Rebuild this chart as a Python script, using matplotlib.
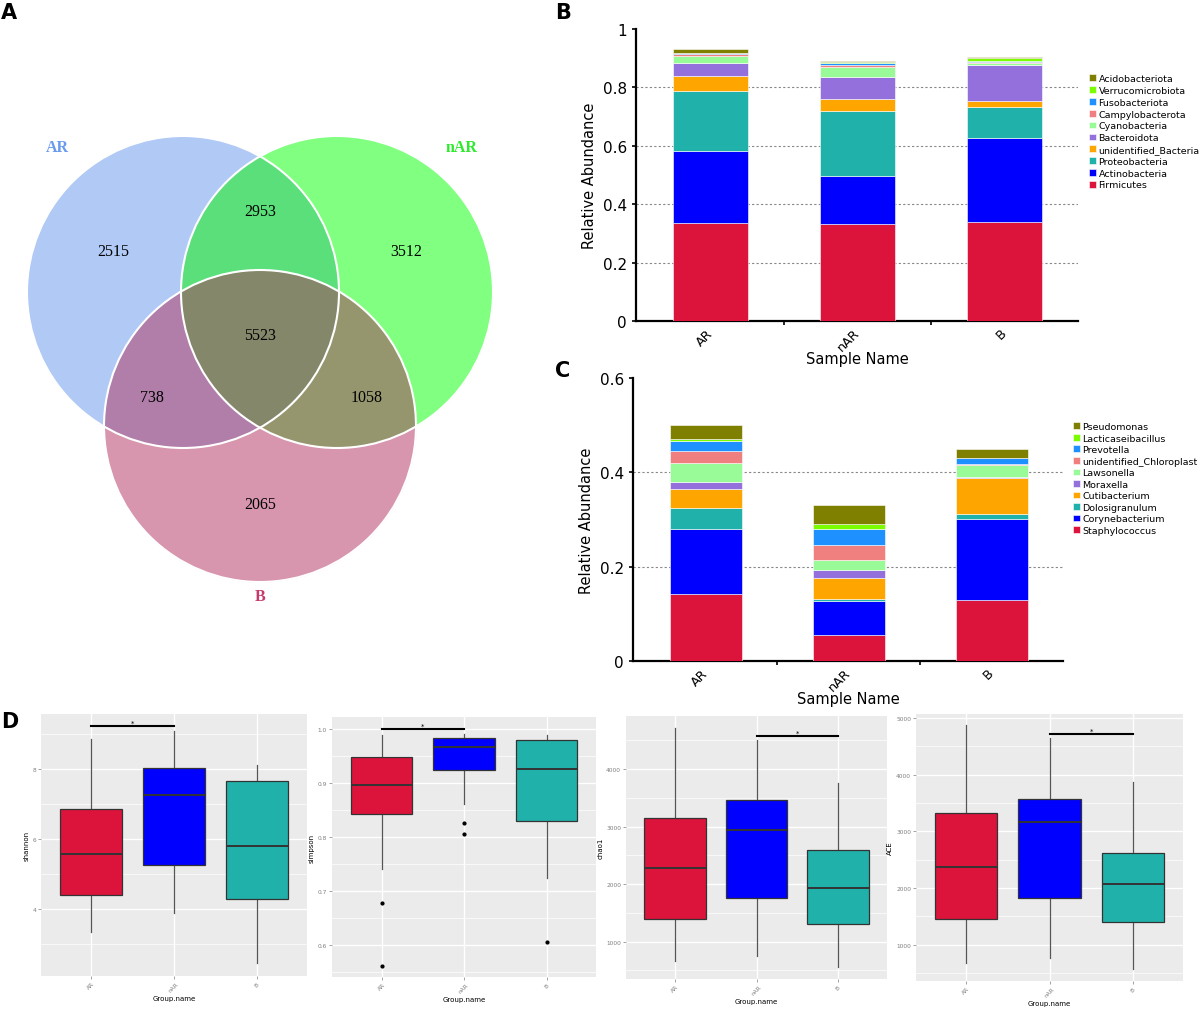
import numpy as np
import matplotlib.pyplot as plt
from matplotlib.patches import Circle
from matplotlib.colors import to_rgb

# ---------------- data ----------------
venn_groups = ['AR', 'nAR', 'B']
# region codes: 1=AR, 2=nAR, 4=B (bit flags)
venn_codes = [1, 2, 4, 3, 5, 6, 7]
venn_counts = [2515, 3512, 2065, 2953, 738, 1058, 5523]

samples = ['AR', 'nAR', 'B']

phyla = ['Firmicutes', 'Actinobacteria', 'Proteobacteria', 'unidentified_Bacteria',
         'Bacteroidota', 'Cyanobacteria', 'Campylobacterota', 'Fusobacteriota',
         'Verrucomicrobiota', 'Acidobacteriota']
firmicutes = [0.335, 0.332, 0.339]
actinobacteria = [0.246, 0.163, 0.287]
proteobacteria = [0.207, 0.224, 0.106]
unidentified_bacteria = [0.051, 0.040, 0.021]
bacteroidota = [0.045, 0.076, 0.125]
cyanobacteria = [0.025, 0.034, 0.007]
campylobacterota = [0.004, 0.007, 0.002]
fusobacteriota = [0.004, 0.007, 0.004]
verrucomicrobiota = [0.002, 0.003, 0.008]
acidobacteriota = [0.013, 0.006, 0.006]
phylum_vals = [firmicutes, actinobacteria, proteobacteria, unidentified_bacteria,
               bacteroidota, cyanobacteria, campylobacterota, fusobacteriota,
               verrucomicrobiota, acidobacteriota]

genera = ['Staphylococcus', 'Corynebacterium', 'Dolosigranulum', 'Cutibacterium',
          'Moraxella', 'Lawsonella', 'unidentified_Chloroplast', 'Prevotella',
          'Lacticaseibacillus', 'Pseudomonas']
staphylococcus = [0.142, 0.056, 0.130]
corynebacterium = [0.137, 0.072, 0.171]
dolosigranulum = [0.045, 0.003, 0.010]
cutibacterium = [0.040, 0.044, 0.076]
moraxella = [0.016, 0.017, 0.003]
lawsonella = [0.040, 0.022, 0.025]
unidentified_chloroplast = [0.026, 0.032, 0.003]
prevotella = [0.020, 0.034, 0.012]
lacticaseibacillus = [0.004, 0.011, 0.001]
pseudomonas = [0.030, 0.040, 0.018]
genus_vals = [staphylococcus, corynebacterium, dolosigranulum, cutibacterium,
              moraxella, lawsonella, unidentified_chloroplast, prevotella,
              lacticaseibacillus, pseudomonas]

# boxplot stats per group: (whislo, q1, med, q3, whishi)
shannon = [(3.34, 4.39, 5.57, 6.86, 8.87), (3.89, 5.25, 7.27, 8.02, 9.09), (2.46, 4.30, 5.81, 7.65, 8.12)]
shannon_out = [[], [], []]
simpson = [(0.740, 0.842, 0.8965, 0.948, 0.988), (0.861, 0.924, 0.967, 0.984, 0.991), (0.7235, 0.830, 0.926, 0.979, 0.9895)]
simpson_out = [[0.678, 0.561], [0.8265, 0.8055], [0.606]]
chao1 = [(670, 1394, 2280, 3143, 4718), (745, 1759, 2935, 3462, 4504), (553, 1306, 1937, 2588, 3763)]
chao1_out = [[], [], []]
ace = [(683, 1453, 2375, 3315, 4877), (765, 1829, 3168, 3579, 4648), (572, 1394, 2063, 2621, 3872)]
ace_out = [[], [], []]

# ---------------- styles ----------------
bar_colors = ['#DC143C', '#0000FF', '#20B2AA', '#FFA500', '#9370DB',
              '#98FB98', '#F08080', '#1E90FF', '#7CFC00', '#808000']
box_colors = ['#DC143C', '#0000FF', '#20B2AA']

W, H = 1200, 1012
fig = plt.figure(figsize=(W / 100, H / 100), dpi=100)


def px_axes(l, t, r, b):
    return fig.add_axes([l / W, 1 - b / H, (r - l) / W, (b - t) / H])


# ---------------- A: Venn ----------------
axA = px_axes(0, 0, 560, 620)
axA.set_xlim(0, 560)
axA.set_ylim(620, 0)
axA.axis('off')

centers = [(183, 293), (337, 293), (260, 427)]
radius = 156
region_colors = {0: (1, 1, 1), 1: to_rgb('#B0C9F5'), 2: to_rgb('#80FF80'),
                 4: to_rgb('#D796AE'), 3: to_rgb('#5BE07B'), 5: to_rgb('#B07EAA'),
                 6: to_rgb('#96976F'), 7: to_rgb('#84876A')}
yy, xx = np.mgrid[0:620:0.5, 0:560:0.5]
code = np.zeros(xx.shape, dtype=int)
for i, (cx, cy) in enumerate(centers):
    code += ((xx - cx) ** 2 + (yy - cy) ** 2 <= radius ** 2).astype(int) << i
img = np.ones(xx.shape + (3,))
for k, c in region_colors.items():
    img[code == k] = c
axA.imshow(img, extent=(0, 560, 620, 0), interpolation='bilinear')
for cx, cy in centers:
    axA.add_patch(Circle((cx, cy), radius, fill=False, ec='white', lw=1.5))

count_pos = {1: (113, 252), 2: (406, 252), 4: (260, 505), 3: (260, 212),
             5: (152, 398), 6: (367, 398), 7: (260, 336)}
for k, n in zip(venn_codes, venn_counts):
    axA.text(*count_pos[k], str(n), ha='center', va='center',
             family='Liberation Serif', fontsize=11.5)
group_pos = [(57, 148), (462, 148), (260, 597)]
group_col = ['#6A9AEE', '#2EEA2E', '#C73A6E']
for g, p, c in zip(venn_groups, group_pos, group_col):
    axA.text(*p, g, ha='center', va='center', family='Liberation Serif',
             fontweight='bold', fontsize=11.5, color=c)


# ---------------- B/C: stacked bars ----------------
def stacked(ax, names, vals, ymax, yticks, width, leg_anchor, lspace):
    x = np.arange(len(samples))
    bottom = np.zeros(len(samples))
    handles = []
    for name, v, c in zip(names, vals, bar_colors):
        h = ax.bar(x, v, width, bottom=bottom, color=c, edgecolor='white',
                   linewidth=0.4, label=name, zorder=3)
        bottom += np.array(v)
        handles.append(h)
    ax.set_xlim(-0.51, 2.5)
    ax.set_ylim(0, ymax)
    ax.set_yticks(yticks)
    ax.set_yticklabels(['0' if t == 0 else ('1' if t == 1 else f'{t:.1f}') for t in yticks],
                       fontsize=11)
    for t in yticks[1:]:
        if t < ymax:
            ax.axhline(t, color='#888888', ls=(0, (2, 2)), lw=0.8, zorder=1)
    ax.set_xticks(x)
    ax.set_xticklabels(samples, rotation=45, fontsize=9.2, rotation_mode='anchor',
                       ha='right', va='center')
    ax.set_xticks([0.5, 1.5], minor=True)
    ax.tick_params(axis='x', which='major', length=0, pad=7)
    ax.tick_params(axis='x', which='minor', length=3, width=1.2)
    ax.tick_params(axis='y', length=3, width=1.2)
    for s in ['top', 'right']:
        ax.spines[s].set_visible(False)
    for s in ['left', 'bottom']:
        ax.spines[s].set_linewidth(1.6)
    ax.set_ylabel('Relative Abundance', fontsize=10.5)
    ax.set_xlabel('Sample Name', fontsize=10.5, labelpad=-2)
    fig.legend(handles[::-1], names[::-1], loc='upper left',
               bbox_to_anchor=leg_anchor, bbox_transform=fig.transFigure,
               frameon=False, fontsize=6.8, handlelength=0.7, handleheight=0.7,
               handletextpad=0.3, labelspacing=lspace, borderpad=0, borderaxespad=0)


axB = px_axes(636, 30, 1078, 322)
stacked(axB, phyla, phylum_vals, 1.0, [0, 0.2, 0.4, 0.6, 0.8, 1.0], 0.51,
        (1089 / W, 1 - 75 / H), 0.30)

axC = px_axes(633, 379, 1063, 662)
stacked(axC, genera, genus_vals, 0.6, [0, 0.2, 0.4, 0.6], 0.505,
        (1073 / W, 1 - 423 / H), 0.27)


# ---------------- D: boxplots ----------------
def boxpanel(ax, stats, outl, ylab, ylim, majors, minors, fmt, sig):
    ax.set_facecolor('#EBEBEB')
    bx = [dict(whislo=s[0], q1=s[1], med=s[2], q3=s[3], whishi=s[4], fliers=o)
          for s, o in zip(stats, outl)]
    res = ax.bxp(bx, positions=[1, 2, 3], widths=0.75, patch_artist=True,
                 boxprops=dict(edgecolor='#333333', linewidth=0.9),
                 medianprops=dict(color='#333333', linewidth=1.4),
                 whiskerprops=dict(color='#555555', linewidth=0.9),
                 capprops=dict(linewidth=0),
                 flierprops=dict(marker='o', markersize=2, markerfacecolor='black',
                                 markeredgecolor='black'))
    for p, c in zip(res['boxes'], box_colors):
        p.set_facecolor(c)
        p.set_zorder(3)
    for m in res['medians']:
        m.set_zorder(4)
    ax.set_xlim(0.4, 3.6)
    ax.set_ylim(*ylim)
    ax.set_yticks(majors)
    ax.set_yticklabels([fmt.format(t) for t in majors])
    ax.set_yticks(minors, minor=True)
    ax.set_xticks([1, 2, 3])
    ax.set_xticklabels(samples, rotation=45)
    ax.grid(True, which='major', color='white', lw=1.0, zorder=0)
    ax.grid(True, which='minor', axis='y', color='white', lw=0.5, zorder=0)
    ax.set_axisbelow(True)
    ax.tick_params(which='major', labelsize=4.2, labelcolor='#7F7F7F', color='#7F7F7F',
                   length=2, width=0.5, pad=1.5)
    ax.tick_params(which='minor', length=0)
    for s in ax.spines.values():
        s.set_visible(False)
    ax.set_ylabel(ylab, fontsize=5, labelpad=2)
    ax.set_xlabel('Group.name', fontsize=5, labelpad=2)
    x0, x1, yv = sig
    ax.plot([x0, x1], [yv, yv], color='black', lw=1.5, zorder=5)
    ax.text((x0 + x1) / 2, yv, '*', ha='center', va='bottom', fontsize=5)


axD1 = px_axes(41, 715, 307, 977)
boxpanel(axD1, shannon, shannon_out, 'shannon', (2.09, 9.57), [4, 6, 8],
         [3, 5, 7, 9], '{:.0f}', (1, 2, 9.24))
axD2 = px_axes(332, 718, 596, 978)
boxpanel(axD2, simpson, simpson_out, 'simpson', (0.541, 1.022),
         [0.6, 0.7, 0.8, 0.9, 1.0], [0.55, 0.65, 0.75, 0.85, 0.95], '{:.1f}', (1, 2, 1.0))
axD3 = px_axes(626, 717, 887, 980)
boxpanel(axD3, chao1, chao1_out, 'chao1', (351, 4921), [1000, 2000, 3000, 4000],
         [500, 1500, 2500, 3500, 4500], '{:.0f}', (2, 3, 4573))
axD4 = px_axes(916, 715, 1183, 982)
boxpanel(axD4, ace, ace_out, 'ACE', (360, 5070), [1000, 2000, 3000, 4000, 5000],
         [500, 1500, 2500, 3500, 4500], '{:.0f}', (2, 3, 4718))

# panel letters
for lab, x, y in [('A', 9, 13), ('B', 563, 13), ('C', 563, 371), ('D', 10, 722)]:
    fig.text(x / W, 1 - y / H, lab, fontsize=15, fontweight='heavy', va='center', ha='center')

fig.savefig('out.png', dpi=100)
